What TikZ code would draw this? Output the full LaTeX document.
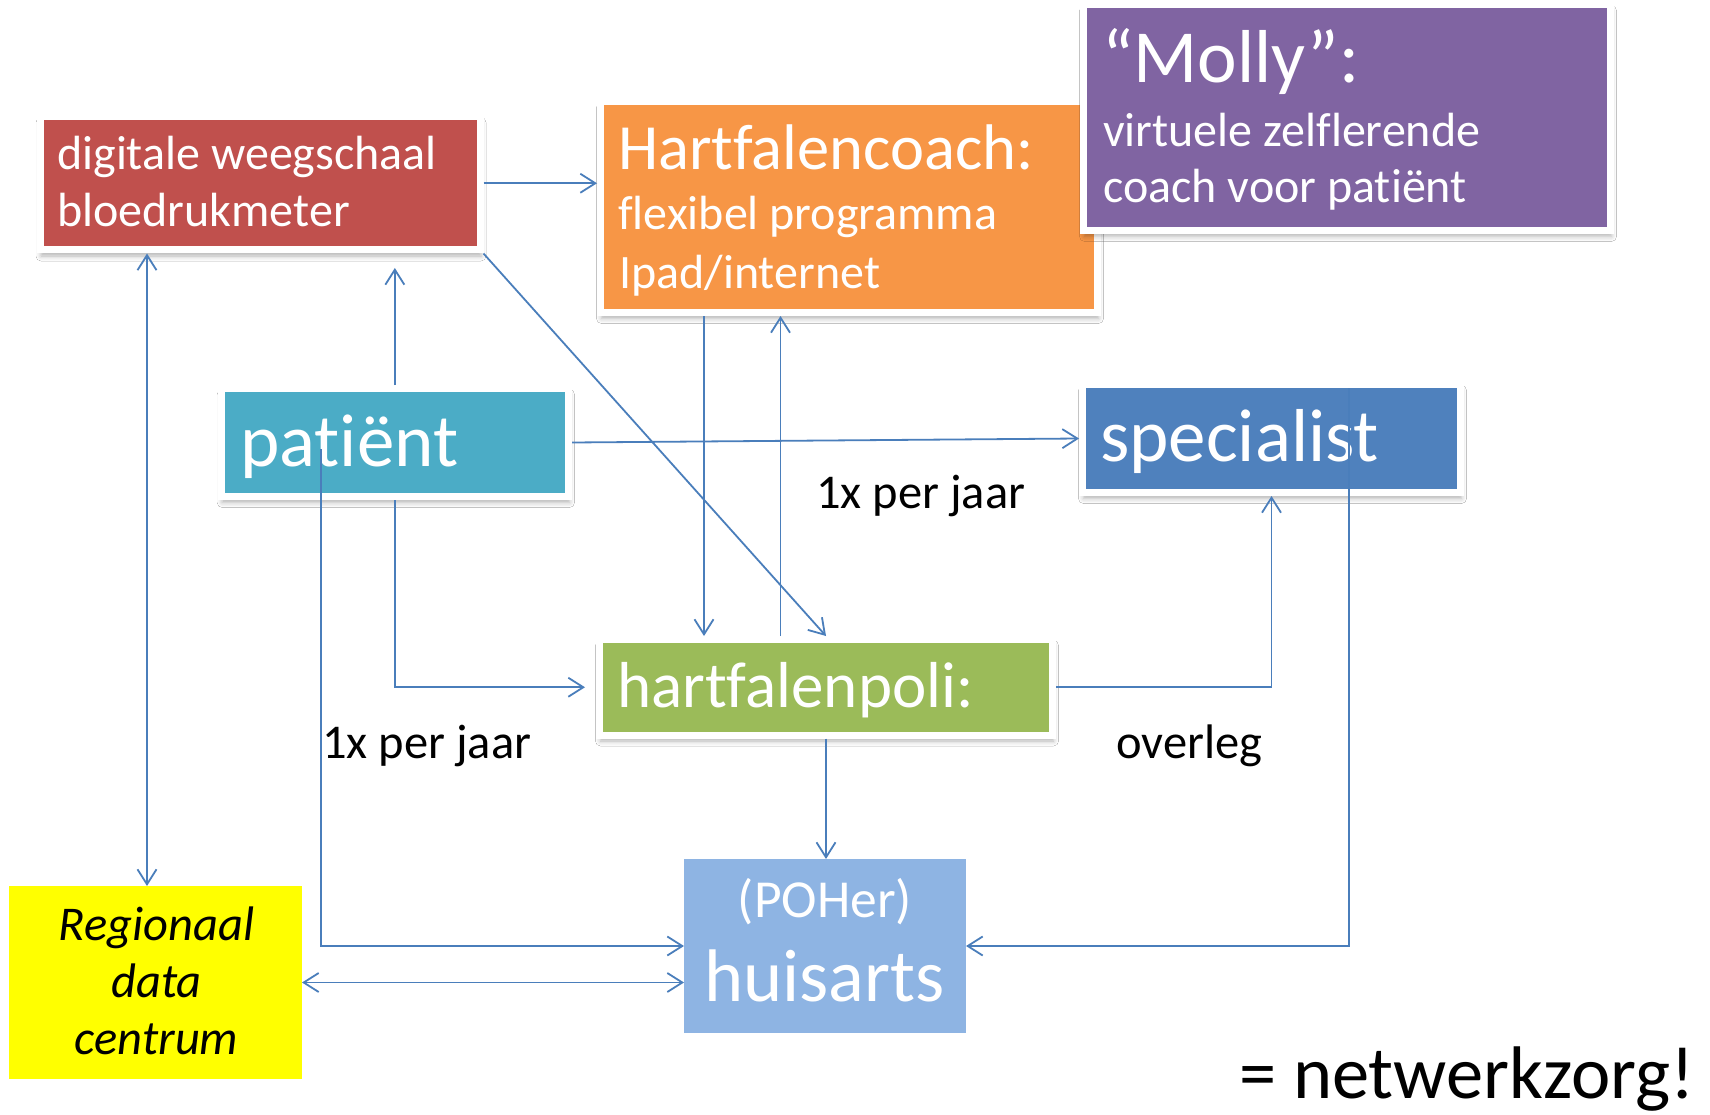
\documentclass[tikz,border=0pt]{standalone}
\usepackage{fontspec}
\setmainfont[Ligatures=NoCommon]{Carlito}
\usetikzlibrary{arrows.meta,shadows.blur,calc}
\definecolor{cRed}{HTML}{C0504D}
\definecolor{cOrange}{HTML}{F79646}
\definecolor{cPurple}{HTML}{8064A2}
\definecolor{cTeal}{HTML}{4BACC6}
\definecolor{cBlue}{HTML}{4F81BD}
\definecolor{cGreen}{HTML}{9BBB59}
\definecolor{cLight}{HTML}{8EB4E3}
\definecolor{cYellow}{HTML}{FFFF00}
\definecolor{cLine}{HTML}{4A7EBB}
\begin{document}
\begin{tikzpicture}[x=1pt,y=-1pt,
  >={Straight Barb[length=15pt,width=19pt]},
  framed/.style={draw=white, line width=7pt, outer sep=3.5pt, inner sep=0pt,
    blur shadow={shadow xshift=1pt, shadow yshift=-6pt, shadow blur radius=5pt, shadow opacity=30}},
  flat/.style={inner sep=0pt, outer sep=0pt},
  wtxt/.style={text=white, inner sep=0pt, anchor=base west},
  lbl/.style={text=black, inner sep=0pt, anchor=base west, font=\fontsize{48.5}{56}\selectfont},
  conn/.style={draw=cLine, line width=1.8pt},
]
\useasboundingbox (0,0) rectangle (1710,1115);
\fill[white] (0,0) rectangle (1710,1115);
% boxes
\node[framed, fill=cRed, minimum width=440pt, minimum height=133.5pt] (red) at (260,183.25) {};
\node[framed, fill=cOrange, minimum width=497pt, minimum height=211pt] (orange) at (849,207) {};
\node[framed, fill=cPurple, minimum width=527pt, minimum height=225.7pt] (purple) at (1347,117.6) {};
\node[framed, fill=cTeal, minimum width=347.3pt, minimum height=108pt] (patient) at (394.85,442.5) {};
\node[framed, fill=cBlue, minimum width=378pt, minimum height=108pt] (spec) at (1271.5,438.5) {};
\node[framed, fill=cGreen, minimum width=453pt, minimum height=95.5pt] (poli) at (826,687.25) {};
\node[flat, fill=cLight, minimum width=282pt, minimum height=174pt] (huis) at (825,946) {};
\node[flat, fill=cYellow, minimum width=293.3pt, minimum height=193pt] (rdc) at (155.35,982.5) {};
% texts
\node[wtxt, font=\fontsize{48}{56}\selectfont] (t1) at (57,170) {digitale weegschaal};
\node[wtxt, font=\fontsize{48}{56}\selectfont] (t2) at (57,226.5) {bloedrukmeter};
\node[wtxt, font=\fontsize{64.5}{70}\selectfont] (t3) at (618,170) {Hartfalencoach:};
\node[wtxt, font=\fontsize{48}{56}\selectfont] (t4) at (618,230) {flexibel programma};
\node[wtxt, font=\fontsize{48}{56}\selectfont] (t5) at (619,288) {Ipad/internet};
\node[wtxt, font=\fontsize{75}{80}\selectfont] (t6) at (1102,83) {“Molly”:};
\node[wtxt, font=\fontsize{48}{56}\selectfont] (t7) at (1103,147) {virtuele zelflerende};
\node[wtxt, font=\fontsize{48}{56}\selectfont] (t8) at (1103,203) {coach voor patiënt};
\node[wtxt, font=\fontsize{75}{80}\selectfont] (t9) at (240,466.7) {patiënt};
\node[wtxt, font=\fontsize{75}{80}\selectfont] (t10) at (1100,461.7) {specialist};
\node[wtxt, font=\fontsize{65}{70}\selectfont] (t11) at (617,707.7) {hartfalenpoli:};
\node[text=white, inner sep=0pt, anchor=base, font=\fontsize{53.5}{56}\selectfont] (t12) at (825,917) {(POHer)};
\node[text=white, inner sep=0pt, anchor=base, font=\fontsize{74.5}{80}\selectfont] (t13) at (824.5,1001.7) {huisarts};
\node[text=black, inner sep=0pt, anchor=base, font=\fontsize{48.5}{56}\selectfont\itshape] (t14) at (156.5,940) {Regionaal};
\node[text=black, inner sep=0pt, anchor=base, font=\fontsize{48.5}{56}\selectfont\itshape] (t15) at (156.5,997) {data};
\node[text=black, inner sep=0pt, anchor=base, font=\fontsize{48.5}{56}\selectfont\itshape] (t16) at (156.5,1054) {centrum};
\node[text=black, inner sep=0pt, anchor=base west, font=\fontsize{74.5}{80}\selectfont] (t17) at (1239,1098) {= netwerkzorg!};
\node[lbl] (l1) at (816,508) {1x per jaar};
\node[lbl] (l2) at (322,758) {1x per jaar};
\node[lbl] (l3) at (1116,758) {overleg};
% helper coordinates
\coordinate (bx) at (147,0);
\coordinate (fx) at (704,0);
\coordinate (gx) at (780.5,0);
\coordinate (istart) at (320.6,449);
\coordinate (kstart) at (1349,388);
% connectors
\draw[conn,->] (red.east) -- (red.east -| orange.west);
\draw[conn,<->] (red.south -| bx) -- (rdc.north -| bx);
\draw[conn,->,shorten >=14.5pt] (patient.north) -- (patient.north |- red.south);
\draw[conn,->] (red.south east) -- (poli.north);
\draw[conn,->] (patient.east) -- (spec.west);
\draw[conn,->] (orange.south -| fx) -- (poli.north -| fx);
\draw[conn,->] (poli.north -| gx) -- (orange.south -| gx);
\draw[conn,->,shorten >=11pt] (patient.south) -- (patient.south |- poli.west) -- (poli.west);
\draw[conn,->] (istart) -- (istart |- huis.west) -- (huis.west);
\draw[conn,<->] (rdc.east) -- (rdc.east -| huis.west);
\draw[conn,->] (kstart) -- (kstart |- huis.east) -- (huis.east);
\draw[conn,->] (poli.east) -- (poli.east -| spec.south) -- (spec.south);
\draw[conn,->] (poli.south) -- (poli.south |- huis.north);
\end{tikzpicture}
\end{document}
